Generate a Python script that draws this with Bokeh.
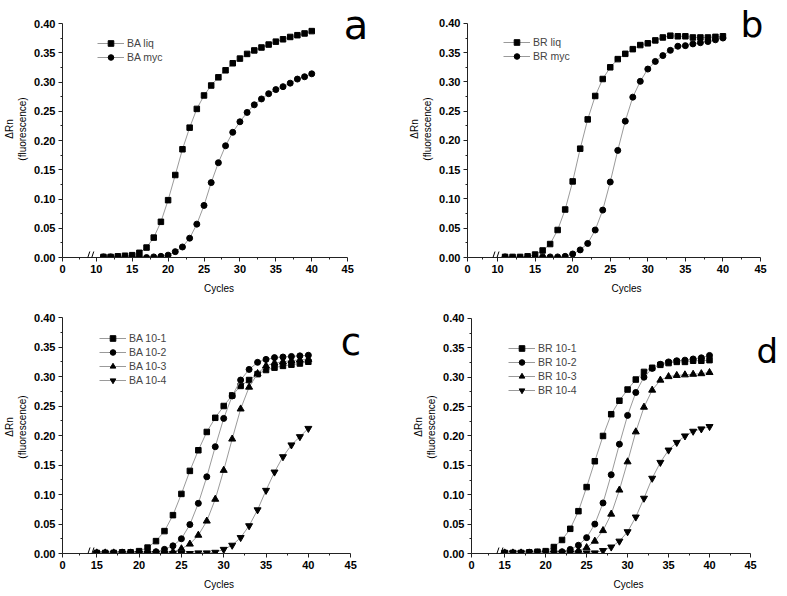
from bokeh.plotting import figure
from bokeh.layouts import column, row
from bokeh.models import (Range1d, FixedTicker, NumeralTickFormatter, CustomJSTickFormatter,
                          Legend, LegendItem, Label, Arrow)
from bokeh.embed import file_html
from bokeh.resources import INLINE

# ---------------- data ----------------
cycles_ab = list(range(11, 41))
cycles_cd = list(range(15, 41))

x_ticks_ab = [0, 10, 15, 20, 25, 30, 35, 40, 45]
x_ticks_cd = [0, 15, 20, 25, 30, 35, 40, 45]
y_ticks = [0.00, 0.05, 0.10, 0.15, 0.20, 0.25, 0.30, 0.35, 0.40]

ba_liq = [0.001, 0.001, 0.002, 0.003, 0.004, 0.008, 0.017, 0.034, 0.061, 0.098,
          0.141, 0.185, 0.222, 0.254, 0.277, 0.294, 0.308, 0.320, 0.332, 0.340,
          0.348, 0.354, 0.359, 0.364, 0.369, 0.373, 0.377, 0.380, 0.383, 0.387]
ba_myc = [0.001, 0.001, 0.001, 0.001, 0.001, 0.001, 0.000, 0.001, 0.002, 0.004,
          0.010, 0.018, 0.033, 0.057, 0.089, 0.128, 0.162, 0.191, 0.214, 0.232,
          0.248, 0.261, 0.271, 0.280, 0.287, 0.292, 0.298, 0.305, 0.309, 0.314]

br_liq = [0.001, 0.001, 0.001, 0.002, 0.005, 0.012, 0.023, 0.047, 0.082, 0.130,
          0.186, 0.236, 0.276, 0.305, 0.325, 0.339, 0.348, 0.356, 0.363, 0.366,
          0.371, 0.376, 0.379, 0.378, 0.378, 0.376, 0.376, 0.376, 0.377, 0.378]
br_myc = [0.001, 0.000, 0.000, 0.000, 0.000, 0.001, 0.001, 0.001, 0.002, 0.006,
          0.013, 0.024, 0.047, 0.081, 0.129, 0.183, 0.233, 0.274, 0.301, 0.322,
          0.335, 0.345, 0.354, 0.361, 0.362, 0.365, 0.367, 0.369, 0.372, 0.375]

ba_10_1 = [0.001, 0.001, 0.001, 0.002, 0.002, 0.004,
           0.010, 0.021, 0.038, 0.065, 0.101, 0.140, 0.175, 0.206, 0.230, 0.250,
           0.268, 0.284, 0.294, 0.304, 0.311, 0.315, 0.318, 0.320, 0.322, 0.325]
ba_10_2 = [0.001, 0.001, 0.001, 0.001, 0.001, 0.002,
           0.002, 0.003, 0.007, 0.013, 0.025, 0.049, 0.085, 0.130, 0.181, 0.229,
           0.267, 0.294, 0.312, 0.324, 0.329, 0.332, 0.333, 0.334, 0.335, 0.336]
ba_10_3 = [0.001, 0.001, 0.001, 0.001, 0.001, 0.001,
           0.001, 0.001, 0.001, 0.003, 0.008, 0.016, 0.031, 0.055, 0.092, 0.141,
           0.194, 0.245, 0.282, 0.305, 0.318, 0.323, 0.325, 0.327, 0.328, 0.329]
ba_10_4 = [0.000, 0.000, 0.000, 0.000, 0.000, 0.000,
           0.000, 0.000, 0.000, 0.000, 0.000, 0.000, 0.001, 0.001, 0.002, 0.007,
           0.014, 0.027, 0.047, 0.074, 0.107, 0.138, 0.164, 0.184, 0.198, 0.212]

br_10_1 = [0.001, 0.001, 0.001, 0.002, 0.003, 0.004,
           0.011, 0.023, 0.042, 0.072, 0.113, 0.157, 0.200, 0.237, 0.260, 0.279,
           0.296, 0.309, 0.316, 0.321, 0.324, 0.326, 0.326, 0.328, 0.328, 0.329]
br_10_2 = [0.001, 0.001, 0.001, 0.001, 0.001, 0.002,
           0.002, 0.003, 0.007, 0.014, 0.027, 0.050, 0.086, 0.134, 0.186, 0.235,
           0.274, 0.300, 0.315, 0.322, 0.326, 0.328, 0.329, 0.331, 0.333, 0.337]
br_10_3 = [0.001, 0.001, 0.001, 0.001, 0.001, 0.001,
           0.001, 0.001, 0.002, 0.005, 0.010, 0.021, 0.039, 0.067, 0.108, 0.156,
           0.207, 0.249, 0.278, 0.295, 0.301, 0.303, 0.304, 0.305, 0.306, 0.308]
br_10_4 = [0.001, 0.001, 0.001, 0.001, 0.001, 0.001,
           0.001, 0.001, 0.001, 0.001, 0.001, 0.001, 0.005, 0.011, 0.021, 0.037,
           0.062, 0.094, 0.128, 0.155, 0.176, 0.189, 0.200, 0.208, 0.212, 0.216]

# ---------------- styling helpers ----------------
LINE_COL = "#9a9a9a"
TICK_FONT = "Liberation Sans"
LETTER_FONT = "DejaVu Sans"


def make_disp(brk, k):
    def disp(x):
        return x if x >= brk else brk - (brk - x) * k
    return disp


def make_panel(letter, series, cycles, x_ticks, brk, k, break_at, geo, leg_px, letter_px,
               letter_size):
    # geo: figure size and frame pixel geometry (figure-local pixels)
    W, H, L, R45, FR, FT, T40, B = geo
    disp = make_disp(brk, k)
    d0 = disp(0)
    sx = (R45 - L) / (45 - d0)
    sy = (B - T40) / 0.40
    x_end = 45 + (FR - R45) / sx
    y_top = 0.40 + (T40 - FT) / sy

    xs = [disp(c) for c in cycles]
    p = figure(width=W, height=H, output_backend="svg", toolbar_location=None,
               x_range=Range1d(d0, x_end), y_range=Range1d(0, y_top),
               min_border_left=L, min_border_right=W - FR, min_border_top=FT,
               min_border_bottom=H - B)
    p.xgrid.visible = False
    p.ygrid.visible = False
    p.outline_line_color = None

    items = []
    for name, vals, marker, msize in series:
        lr = p.line(xs, vals, line_color=LINE_COL, line_width=1)
        sr = p.scatter(xs, vals, marker=marker, size=msize, fill_color="black",
                       line_color="black")
        items.append(LegendItem(label=name, renderers=[lr, sr]))

    # axes
    xpos = [disp(t) for t in x_ticks]
    xminor = [disp((a + b) / 2) for a, b in zip(x_ticks[:-1], x_ticks[1:])]
    p.xaxis.ticker = FixedTicker(ticks=xpos, minor_ticks=xminor)
    p.xaxis.formatter = CustomJSTickFormatter(
        args=dict(pos=xpos, lab=[str(t) for t in x_ticks]),
        code="""
        let best = 0;
        for (let i = 0; i < pos.length; i++) {
            if (Math.abs(pos[i] - tick) < Math.abs(pos[best] - tick)) best = i;
        }
        return lab[best];
        """)
    p.xaxis.bounds = (d0, 45)
    yminor = [(a + b) / 2 for a, b in zip(y_ticks[:-1], y_ticks[1:])]
    p.yaxis.ticker = FixedTicker(ticks=y_ticks, minor_ticks=yminor)
    p.yaxis.formatter = NumeralTickFormatter(format="0.00")
    p.yaxis.bounds = (0, 0.40)

    for ax in (p.xaxis[0], p.yaxis[0]):
        ax.axis_line_color = "#222222"
        ax.major_tick_line_color = "#222222"
        ax.minor_tick_line_color = "#222222"
        ax.major_tick_in = 0
        ax.major_tick_out = 4
        ax.minor_tick_in = 0
        ax.minor_tick_out = 2
        ax.major_label_text_font = TICK_FONT
        ax.major_label_text_font_style = "bold"
        ax.major_label_text_font_size = "11px"
        ax.major_label_text_color = "black"
        ax.major_label_standoff = 3
        ax.axis_label_text_font = TICK_FONT
        ax.axis_label_text_font_style = "normal"
        ax.axis_label_text_font_size = "10px"
        ax.axis_label_text_color = "black"
    p.xaxis.axis_label_standoff = 7
    p.yaxis.axis_label_standoff = 3
    p.xaxis.axis_label = "Cycles"
    p.yaxis.axis_label = "\u0394Rn\n(fluorescence)"

    # axis break marks
    dx = 2.0 / sx
    dy = 6.0 / sy
    gap = 2.0 / sx
    for off in (-gap, gap):
        p.add_layout(Arrow(end=None, x_start=break_at + off - dx, y_start=-dy,
                           x_end=break_at + off + dx, y_end=dy,
                           line_color="black", line_width=1))

    # legend
    n = len(items)
    row_h = 14
    vx = leg_px[0] - L
    vy = B - leg_px[1] - n * row_h
    legend = Legend(items=items, location=(vx, vy))
    legend.border_line_color = None
    legend.background_fill_alpha = 0
    legend.padding = 0
    legend.spacing = 0
    legend.margin = 0
    legend.label_height = row_h
    legend.glyph_height = row_h
    legend.glyph_width = 27
    legend.label_standoff = 3
    legend.label_text_font = TICK_FONT
    legend.label_text_font_size = "10.5px"
    p.add_layout(legend)

    # panel letter: text box centred so that the glyph baseline lands on letter_px[1]
    size_px = float(letter_size.replace("px", ""))
    mid_px = letter_px[1] - 0.346 * size_px
    lx = d0 + (letter_px[0] - L) / sx
    ly = 0.40 - (mid_px - T40) / sy
    p.add_layout(Label(x=lx, y=ly, text=letter, text_font=LETTER_FONT,
                       text_font_size=letter_size, text_baseline="middle",
                       text_align="left", text_color="black"))
    return p


# geometry: (W, H, frame_left, x45_px, frame_right, frame_top, y040_px, y000_px)
pa = make_panel("a", [("BA liq", ba_liq, "square", 5.5), ("BA myc", ba_myc, "circle", 6)],
                cycles_ab, x_ticks_ab, 10, 0.47, 9.1,
                (400, 296, 60, 347, 375, 0, 23, 257), (35 + 60, 36), (343, 38), "40px")
pb = make_panel("b", [("BR liq", br_liq, "square", 5.5), ("BR myc", br_myc, "circle", 6)],
                cycles_ab, x_ticks_ab, 10, 0.40, 9.66,
                (387, 296, 67, 360, 385, 0, 23, 258), (36 + 67, 36), (340, 37), "36px")
pc = make_panel("c", [("BA 10-1", ba_10_1, "square", 5.5), ("BA 10-2", ba_10_2, "circle", 6),
                      ("BA 10-3", ba_10_3, "triangle", 7),
                      ("BA 10-4", ba_10_4, "inverted_triangle", 7)],
                cycles_cd, x_ticks_cd, 15, 0.27, 14.2,
                (400, 300, 60, 350, 375, 4, 21, 257), (37 + 60, 35), (340, 59), "37px")
pd = make_panel("d", [("BR 10-1", br_10_1, "square", 5.5), ("BR 10-2", br_10_2, "circle", 6),
                      ("BR 10-3", br_10_3, "triangle", 7),
                      ("BR 10-4", br_10_4, "inverted_triangle", 7)],
                cycles_cd, x_ticks_cd, 15, 0.27, 14.3,
                (387, 300, 71, 350, 385, 4, 22, 258), (37 + 71, 46), (356, 66), "34px")

layout = column(row(pa, pb), row(pc, pd))
open("out.html", "w").write(file_html(layout, INLINE))
